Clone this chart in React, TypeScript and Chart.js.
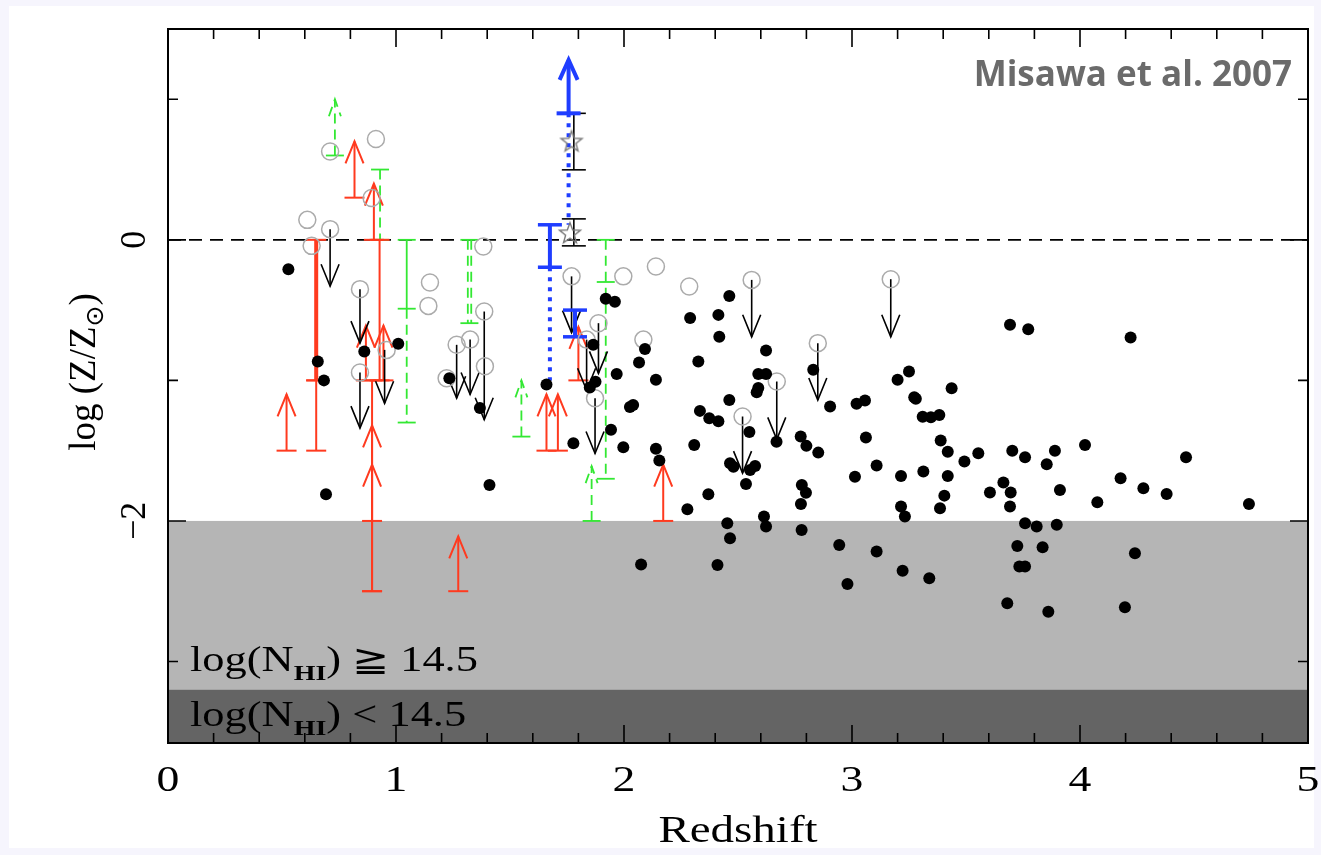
import React, { useEffect, useRef } from "react";
import { Chart, registerables } from "chart.js";

Chart.register(...registerables);

// Axis ranges
const X_MIN = 0;
const X_MAX = 5;
const Y_MIN = -3.58;
const Y_MAX = 1.5;
const N_HI_SPLIT = -3.2; // boundary between the two shaded N_HI regimes
const N_HI_TOP = -2;

const xTickLabels = ["0", "1", "2", "3", "4", "5"];
const yTickLabels: [number, string][] = [
  [0, "0"],
  [-2, "\u22122"],
];

// Detections: [redshift, log Z/Zsun]
const detections: [number, number][] = [
  [0.528, -0.21], [0.657, -0.866], [0.684, -1.0], [0.693, -1.81], [0.861, -0.795],
  [1.01, -0.74], [1.234, -0.985], [1.368, -1.196], [1.41, -1.745], [1.66, -1.03],
  [1.778, -1.447], [1.92, -0.42], [1.96, -0.44], [1.865, -0.747], [1.85, -1.05],
  [1.875, -1.01], [1.943, -1.352], [1.968, -0.954], [1.997, -1.475], [2.092, -0.776],
  [2.066, -0.873], [2.14, -0.996], [2.026, -1.19], [2.04, -1.175], [2.14, -1.487],
  [2.155, -1.57], [2.29, -0.557], [2.414, -0.534], [2.418, -0.69], [2.326, -0.866],
  [2.333, -1.217], [2.374, -1.27], [2.414, -1.29], [2.308, -1.46], [2.37, -1.81],
  [2.278, -1.917], [2.075, -2.31], [2.41, -2.313], [2.462, -0.4], [2.623, -0.788],
  [2.589, -0.954], [2.623, -0.954], [2.589, -1.055], [2.582, -1.084], [2.462, -1.14],
  [2.55, -1.367], [2.465, -1.59], [2.48, -1.615], [2.575, -1.61], [2.553, -1.637],
  [2.535, -1.737], [2.453, -2.016], [2.465, -2.123], [2.614, -1.969], [2.623, -2.04],
  [2.779, -2.064], [2.669, -1.436], [2.83, -0.925], [2.904, -1.186], [3.02, -1.167],
  [3.057, -1.144], [2.775, -1.4], [2.8, -1.466], [2.852, -1.514], [3.061, -1.407],
  [3.108, -1.606], [3.013, -1.685], [2.78, -1.744], [2.798, -1.8], [2.776, -1.879],
  [2.944, -2.171], [3.108, -2.218], [2.98, -2.448], [3.2, -0.996], [3.25, -0.937],
  [3.273, -1.12], [3.28, -1.13], [3.31, -1.258], [3.346, -1.262], [3.383, -1.246],
  [3.437, -1.056], [3.389, -1.428], [3.42, -1.507], [3.493, -1.578], [3.554, -1.518],
  [3.215, -1.68], [3.313, -1.649], [3.42, -1.68], [3.405, -1.82], [3.386, -1.91],
  [3.215, -1.898], [3.232, -1.969], [3.605, -1.798], [3.222, -2.354], [3.339, -2.408],
  [3.693, -0.605], [3.773, -0.636], [4.222, -0.695], [3.703, -1.5], [3.759, -1.547],
  [3.89, -1.5], [4.022, -1.459], [3.854, -1.597], [4.465, -1.547], [3.664, -1.727],
  [3.696, -1.798], [3.693, -1.898], [3.912, -1.78], [4.076, -1.867], [4.178, -1.696],
  [4.278, -1.767], [4.38, -1.808], [4.741, -1.879], [3.759, -2.016], [3.81, -2.04],
  [3.898, -2.028], [3.725, -2.178], [3.836, -2.187], [4.241, -2.23], [3.734, -2.325],
  [3.759, -2.325], [3.681, -2.586], [3.861, -2.646], [4.197, -2.614],
];

// Open circles: [redshift, log Z/Zsun]
const openCircles: [number, number][] = [
  [0.611, 0.142], [0.711, 0.076], [0.63, -0.043], [0.711, 0.629], [0.912, 0.717],
  [0.893, 0.297], [0.842, -0.351], [0.842, -0.944], [0.959, -0.783], [1.149, -0.304],
  [1.142, -0.47], [1.383, -0.047], [1.387, -0.51], [1.266, -0.747], [1.325, -0.71],
  [1.39, -0.9], [1.222, -0.985], [1.77, -0.26], [1.997, -0.26], [2.14, -0.19],
  [2.286, -0.332], [1.888, -0.593], [1.836, -0.71], [2.085, -0.71], [1.873, -1.127],
  [2.56, -0.285], [3.17, -0.28], [2.85, -0.735], [2.67, -1.008], [2.52, -1.257],
];

// Star points with their error bars [redshift, upper, lower]
const starPoints: [number, number][] = [
  [1.77, 0.7],
  [1.763, 0.047],
];
const starErrors: [number, number, number][] = [
  [1.78, 0.9, 0.498],
  [1.78, 0.149, -0.043],
];

// Upper limits (black): [redshift, start, arrow tip]
const upperLimits: [number, number, number][] = [
  [0.711, 0.076, -0.33], [0.842, -0.351, -0.735], [0.842, -0.944, -1.34],
  [0.95, -0.783, -1.163], [1.266, -0.747, -1.127], [1.325, -0.71, -1.1],
  [1.387, -0.51, -1.28], [1.77, -0.26, -0.66], [1.888, -0.593, -0.95],
  [1.836, -0.71, -1.07], [1.873, -1.127, -1.52], [2.56, -0.285, -0.69],
  [3.17, -0.28, -0.69], [2.85, -0.735, -1.14], [2.67, -1.008, -1.42],
  [2.52, -1.257, -1.66],
];

// Red lower limits: [redshift, base, arrow tip]
const redLowerLimits: [number, number, number][] = [
  [0.52, -1.5, -1.1], [0.818, 0.3, 0.7], [0.903, 0.0, 0.4],
  [0.868, -1.0, -0.61], [0.945, -1.0, -0.61], [0.895, -2.5, -1.6],
  [0.895, -2.0, -1.32], [1.273, -2.5, -2.11], [1.66, -1.5, -1.1],
  [1.71, -1.5, -1.1], [1.8, -1.0, -0.62], [2.172, -2.0, -1.6],
];
// Red ranges: [redshift, top, bottom, line width]
const redRanges: [number, number, number, number][] = [
  [0.65, 0.0, -1.0, 4],
  [0.65, -1.0, -1.5, 2],
  [0.928, 0.0, -1.0, 2],
  [0.895, -1.0, -2.5, 2],
];

// Green (dashed) ranges: [redshift, top, bottom]
const greenDashedRanges: [number, number, number][] = [
  [0.93, 0.5, 0.0], [1.047, -0.49, -1.3], [1.315, 0.0, -0.593],
  [1.33, 0.0, -0.593], [1.92, 0.0, -1.7],
];
const greenSolidRanges: [number, number, number][] = [[1.047, 0.0, -0.49]];
const greenCaps: [number, number][] = [
  [0.93, 0.5], [0.93, 0.0], [1.047, 0.0], [1.047, -0.49], [1.047, -1.3],
  [1.322, 0.0], [1.322, -0.593], [1.92, 0.0], [1.92, -0.3], [1.92, -1.7],
];
const greenLowerLimits: [number, number, number][] = [
  [0.732, 0.6, 1.0], [1.55, -1.4, -1.0], [1.858, -2.0, -1.61],
];

// Blue system
const blueLowerLimit: [number, number, number] = [1.757, 0.9, 1.28];
const blueDotted: [number, number, number][] = [
  [1.757, 0.9, 0.107],
  [1.675, -0.195, -1.0],
];
const blueBars: [number, number, number][] = [
  [1.675, 0.107, -0.195],
  [1.785, -0.5, -0.69],
];

const RED = "#ff3a1f";
const GREEN = "#33e833";
const BLUE = "#1f3dff";
const SERIF = "'Liberation Serif', 'DejaVu Serif', serif";
const SX = 1.27; // horizontal stretch of the serif lettering

function makeStarImage(): HTMLCanvasElement {
  const c = document.createElement("canvas");
  c.width = 26;
  c.height = 26;
  const g = c.getContext("2d")!;
  g.strokeStyle = "#7a7a7a";
  g.lineWidth = 1.4;
  g.beginPath();
  for (let i = 0; i < 10; i++) {
    const r = i % 2 === 0 ? 11 : 4.6;
    const a = -Math.PI / 2 + (i * Math.PI) / 5;
    const px = 13 + r * Math.cos(a);
    const py = 13.5 + r * Math.sin(a);
    if (i === 0) g.moveTo(px, py);
    else g.lineTo(px, py);
  }
  g.closePath();
  g.stroke();
  return c;
}

type Part = { t: string; font: string; dy?: number };

function drawParts(
  ctx: CanvasRenderingContext2D,
  parts: Part[],
  x: number,
  y: number,
  sx: number,
  align: "left" | "center" | "right",
  rotate = false
) {
  let w = 0;
  for (const p of parts) {
    ctx.font = p.font;
    w += ctx.measureText(p.t).width;
  }
  let cx = align === "center" ? -w / 2 : align === "right" ? -w : 0;
  ctx.save();
  ctx.translate(x, y);
  if (rotate) ctx.rotate(-Math.PI / 2);
  ctx.scale(sx, 1);
  ctx.textAlign = "left";
  ctx.textBaseline = "alphabetic";
  for (const p of parts) {
    ctx.font = p.font;
    ctx.fillText(p.t, cx, p.dy || 0);
    cx += ctx.measureText(p.t).width;
  }
  ctx.restore();
}

const decorations = {
  id: "decorations",
  beforeDatasetsDraw(chart: any) {
    const { ctx, chartArea: a, scales } = chart;
    const X = (v: number) => scales.x.getPixelForValue(v);
    const Y = (v: number) => scales.y.getPixelForValue(v);
    ctx.save();

    // shaded N_HI regimes
    ctx.fillStyle = "#b5b5b5";
    ctx.fillRect(a.left, Y(N_HI_TOP), a.width, Y(N_HI_SPLIT) - Y(N_HI_TOP));
    ctx.fillStyle = "#646464";
    ctx.fillRect(a.left, Y(N_HI_SPLIT), a.width, a.bottom - Y(N_HI_SPLIT));

    // solar metallicity line
    ctx.strokeStyle = "#000";
    ctx.lineWidth = 1.6;
    ctx.setLineDash([13, 8]);
    ctx.beginPath();
    ctx.moveTo(a.left, Y(0));
    ctx.lineTo(a.right, Y(0));
    ctx.stroke();
    ctx.setLineDash([]);

    const seg = (x: number, y1: number, y2: number) => {
      ctx.beginPath();
      ctx.moveTo(X(x), Y(y1));
      ctx.lineTo(X(x), Y(y2));
      ctx.stroke();
    };
    const cap = (x: number, y: number, half: number) => {
      ctx.beginPath();
      ctx.moveTo(X(x) - half, Y(y));
      ctx.lineTo(X(x) + half, Y(y));
      ctx.stroke();
    };
    const head = (x: number, tip: number, dir: number, half: number, len: number) => {
      // dir = -1 for upward-pointing head, +1 for downward
      const px = X(x);
      const py = Y(tip);
      ctx.beginPath();
      ctx.moveTo(px - half, py - dir * len);
      ctx.lineTo(px, py);
      ctx.lineTo(px + half, py - dir * len);
      ctx.stroke();
    };

    // green systems
    ctx.strokeStyle = GREEN;
    ctx.lineWidth = 1.8;
    ctx.setLineDash([10, 6]);
    for (const [x, t, b] of greenDashedRanges) seg(x, t, b);
    for (const [x, base, tip] of greenLowerLimits) {
      seg(x, base, tip);
      head(x, tip, -1, 6, 17);
    }
    ctx.setLineDash([]);
    for (const [x, t, b] of greenSolidRanges) seg(x, t, b);
    for (const [x, y] of greenCaps) cap(x, y, 9);
    for (const [x, base] of greenLowerLimits) cap(x, base, 9);

    // red systems
    ctx.strokeStyle = RED;
    for (const [x, t, b, w] of redRanges) {
      ctx.lineWidth = w;
      seg(x, t, b);
      ctx.lineWidth = 2;
      cap(x, t, 10);
      cap(x, b, 10);
    }
    ctx.lineWidth = 2;
    for (const [x, base, tip] of redLowerLimits) {
      seg(x, base, tip);
      cap(x, base, 10);
      head(x, tip, -1, 9, 22);
    }

    // black upper limits
    ctx.strokeStyle = "#000";
    ctx.lineWidth = 1.6;
    for (const [x, start, tip] of upperLimits) {
      seg(x, start, tip);
      head(x, tip, 1, 9, 22);
    }
    for (const [x, hi, lo] of starErrors) {
      seg(x, hi, lo);
      cap(x, hi, 12);
      cap(x, lo, 12);
    }

    // blue system
    ctx.strokeStyle = BLUE;
    ctx.lineWidth = 4;
    ctx.setLineDash([4, 6]);
    for (const [x, t, b] of blueDotted) seg(x, t, b);
    ctx.setLineDash([]);
    for (const [x, t, b] of blueBars) {
      seg(x, t, b);
      ctx.lineWidth = 3.5;
      cap(x, t, 12);
      cap(x, b, 12);
      ctx.lineWidth = 4;
    }
    {
      const [x, base, tip] = blueLowerLimit;
      seg(x, base, tip);
      cap(x, base, 12);
      ctx.lineJoin = "miter";
      head(x, tip, -1, 9, 20);
    }
    ctx.restore();
  },
  afterDatasetsDraw(chart: any) {
    const { ctx, chartArea: a, scales } = chart;
    const X = (v: number) => scales.x.getPixelForValue(v);
    const Y = (v: number) => scales.y.getPixelForValue(v);
    ctx.save();

    // frame
    ctx.strokeStyle = "#000";
    ctx.lineWidth = 2;
    ctx.strokeRect(a.left, a.top, a.width, a.height);

    // x ticks (top and bottom, pointing inward)
    ctx.lineWidth = 1.6;
    for (let i = 0; i <= 25; i++) {
      const v = X_MIN + i * 0.2;
      const len = i % 5 === 0 ? 18 : 10;
      const px = X(v);
      ctx.beginPath();
      ctx.moveTo(px, a.bottom);
      ctx.lineTo(px, a.bottom - len);
      ctx.moveTo(px, a.top);
      ctx.lineTo(px, a.top + len);
      ctx.stroke();
    }
    // y ticks (left and right)
    for (let v = -3; v <= 1; v++) {
      const len = v % 2 === 0 ? 18 : 10;
      const py = Y(v);
      ctx.beginPath();
      ctx.moveTo(a.left, py);
      ctx.lineTo(a.left + len, py);
      ctx.moveTo(a.right, py);
      ctx.lineTo(a.right - len, py);
      ctx.stroke();
    }

    ctx.fillStyle = "#000";
    const tickFont = `36px ${SERIF}`;
    xTickLabels.forEach((t, i) => {
      drawParts(ctx, [{ t, font: tickFont }], X(i), 791, SX, "center");
    });
    for (const [v, t] of yTickLabels) {
      drawParts(ctx, [{ t, font: tickFont }], 145, Y(v), 1, "center", true);
    }

    // axis titles
    drawParts(ctx, [{ t: "Redshift", font: `37px ${SERIF}` }], (a.left + a.right) / 2, 842, SX, "center");
    drawParts(
      ctx,
      [
        { t: "log (Z/Z", font: `37px ${SERIF}` },
        { t: "\u2299", font: `25px 'DejaVu Sans', sans-serif`, dy: 8 },
        { t: ")", font: `37px ${SERIF}` },
      ],
      95,
      372,
      1,
      "center",
      true
    );

    // labels for the shaded regimes
    const bandFont = `35px ${SERIF}`;
    const subFont = `bold 22px ${SERIF}`;
    drawParts(
      ctx,
      [
        { t: "log(N", font: bandFont },
        { t: "HI", font: subFont, dy: 9 },
        { t: ") \u2267 14.5", font: bandFont },
      ],
      190,
      671,
      SX,
      "left"
    );
    drawParts(
      ctx,
      [
        { t: "log(N", font: bandFont },
        { t: "HI", font: subFont, dy: 9 },
        { t: ") < 14.5", font: bandFont },
      ],
      190,
      726,
      SX,
      "left"
    );

    // reference tag
    ctx.fillStyle = "#6b6b6b";
    ctx.font = "700 35px 'Open Sans', sans-serif";
    ctx.textAlign = "right";
    ctx.textBaseline = "alphabetic";
    ctx.fillText("Misawa et al. 2007", 1292, 86);
    ctx.restore();
  },
};

export default function App() {
  const ref = useRef<HTMLCanvasElement>(null);

  useEffect(() => {
    document.body.style.margin = "0";
    const star = makeStarImage();
    const chart = new Chart(ref.current!, {
      type: "scatter",
      data: {
        datasets: [
          {
            label: "detections",
            data: detections.map(([x, y]) => ({ x, y })),
            backgroundColor: "#000",
            borderWidth: 0,
            pointRadius: 6,
          },
          {
            label: "stars",
            data: starPoints.map(([x, y]) => ({ x, y })),
            pointStyle: star as any,
            pointRadius: 12,
          },
          {
            label: "open",
            data: openCircles.map(([x, y]) => ({ x, y })),
            backgroundColor: "rgba(0,0,0,0)",
            borderColor: "#ababab",
            borderWidth: 1.5,
            pointRadius: 8.5,
          },
        ],
      },
      options: {
        responsive: false,
        animation: false,
        layout: { padding: { left: 168, right: 13, top: 29, bottom: 112 } },
        scales: {
          x: { type: "linear", min: X_MIN, max: X_MAX, display: false },
          y: { type: "linear", min: Y_MIN, max: Y_MAX, display: false },
        },
        plugins: { legend: { display: false }, tooltip: { enabled: false } },
        events: [],
      },
      plugins: [decorations],
    });
    return () => chart.destroy();
  }, []);

  return (
    <div style={{ position: "relative", width: 1321, height: 855, background: "#f6f5fd", overflow: "hidden" }}>
      <div style={{ position: "absolute", left: 9, top: 6, width: 1305, height: 842, background: "#ffffff" }} />
      <canvas
        ref={ref}
        width={1321}
        height={855}
        style={{ position: "absolute", left: 0, top: 0, width: 1321, height: 855 }}
      />
    </div>
  );
}
